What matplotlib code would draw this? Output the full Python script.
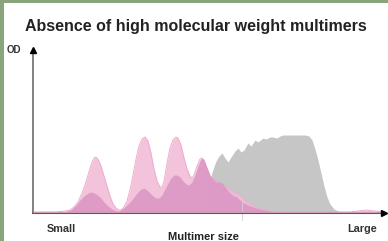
import matplotlib
matplotlib.use("Agg")
import matplotlib.pyplot as plt
from matplotlib.patches import Rectangle

# ---- data (x = multimer size position, y = OD) ----
light_x = [33, 55, 65, 70, 74, 78, 82, 85, 88, 91, 93, 95, 97, 99, 101, 104, 107, 110,
           113, 116, 119, 121, 124, 127, 130, 133, 136, 139, 142, 145, 148, 151, 154,
           157, 160, 162, 164, 167, 170, 173, 176, 178, 181, 184, 187, 190, 192, 194,
           197, 200, 202, 204, 207, 210, 214, 220, 226, 232, 240, 247, 257, 270, 290,
           350, 358, 366, 374, 385]
light_y = [1, 1, 2, 3, 6, 11, 20, 28, 38, 48, 53, 56, 55, 52, 47, 37, 27, 17,
           9, 5, 3, 3, 6, 12, 23, 38, 54, 67, 74, 76, 72, 60, 44,
           32, 26, 26, 32, 50, 65, 73, 76, 75, 68, 55, 44, 37, 35, 38,
           47, 54, 55, 53, 45, 37, 33, 30, 26, 22, 18, 11, 5, 2, 1,
           1, 2, 3, 2, 1]

dark_x = [33, 62, 68, 72, 76, 80, 84, 88, 92, 96, 100, 104, 108, 112, 116, 119, 122,
          126, 130, 134, 138, 141, 144, 147, 150, 153, 156, 159, 162, 165, 168, 171,
          174, 177, 180, 183, 186, 189, 192, 195, 198, 200, 202, 204, 207, 210, 213,
          216, 219, 222, 226, 230, 234, 237, 240, 244, 250, 256, 264, 274, 387]
dark_y = [1, 1, 2, 4, 8, 13, 17, 20, 21, 19, 16, 11, 7, 4, 2, 2, 4,
          7, 11, 16, 21, 24, 25, 23, 20, 17, 15, 15, 18, 24, 30, 35,
          38, 38, 36, 32, 29, 28, 31, 38, 47, 52, 55, 53, 45, 38, 34,
          31, 31, 30, 25, 20, 17, 16, 13, 10, 7, 5, 3, 1, 1]

gray_x = [204, 208, 212, 216, 219, 222, 225, 228, 231, 235, 238, 241, 244, 248, 251,
          255, 258, 263, 266, 270, 273, 277, 280, 283, 295, 305, 309, 312, 315, 318,
          321, 324, 327, 330, 334, 340, 346]
gray_y = [0, 20, 41, 52, 57, 60, 55, 51, 56, 62, 65, 61, 63, 70, 67, 73, 71, 75,
          74, 76, 76, 75, 77, 78, 78, 78, 77, 73, 64, 53, 40, 27, 16, 9, 4, 1, 0]

title = "Absence of high molecular weight multimers"
y_label = "OD"
x_label = "Multimer size"
x_ends = ["Small", "Large"]

W, H = 388, 241
fig = plt.figure(figsize=(W / 100, H / 100), dpi=100)
fig.patch.set_facecolor("white")

# green frame strips
fig.patches.append(Rectangle((0, 0), 4 / W, 1, transform=fig.transFigure,
                             facecolor="#8aa47c", edgecolor="none", zorder=0))
fig.patches.append(Rectangle((0, 1 - 3 / H), 1, 3 / H, transform=fig.transFigure,
                             facecolor="#8aa47c", edgecolor="none", zorder=0))

x0, x1 = 33, 387
ytop, ybase = 47, 213
ax = fig.add_axes([x0 / W, (H - ybase) / H, (x1 - x0) / W, (ybase - ytop) / H])
ax.set_xlim(x0, x1)
ax.set_ylim(0, ybase - ytop)
ax.axis("off")

light = "#f2bad6"
dark = "#dc98c5"
gray = "#c6c6c6"

ax.fill_between(gray_x, 0, gray_y, color=gray, lw=0, zorder=1)
ax.fill_between(light_x, 0, light_y, color=light, alpha=0.88, lw=0, zorder=2)
ax.plot(light_x, light_y, color="#eeaecd", lw=0.7, zorder=2)
ax.fill_between(dark_x, 0, dark_y, color=dark, alpha=0.92, lw=0, zorder=3)

# faint tick remnant
ax.plot([242, 242], [-7, 12], color="#d0d0d0", lw=0.6, clip_on=False, zorder=4)

# axes with arrows
axc = "#5a5a5a"
ax.plot([x0, x0], [0, ybase - ytop - 3], color="#777777", lw=1.3, clip_on=False, zorder=5)
ax.plot([x0, x1 - 4], [0, 0], color=axc, lw=1.5, clip_on=False, zorder=5)
ax.plot([x0, x1 - 4], [1.2, 1.2], color="#e6a9c8", lw=0.6, clip_on=False, zorder=5)
ax.plot([x0], [ybase - ytop - 3], marker="^", ms=4.5, color="black", clip_on=False, zorder=6)
ax.plot([x1 - 3], [0], marker=">", ms=4.5, color="black", clip_on=False, zorder=6)

fig.text(25 / W, 1 - 26 / H, title, fontsize=11.5, fontweight="bold",
         family="Liberation Sans", color="#222222", ha="left", va="center")
fig.text(7 / W, 1 - 50 / H, y_label, fontsize=7, fontweight="bold",
         family="Liberation Sans", color="#333333", ha="left", va="center")
fig.text(47 / W, 1 - 228.5 / H, x_ends[0], fontsize=7.8, fontweight="bold",
         family="Liberation Sans", color="#333333", ha="left", va="center")
fig.text(377 / W, 1 - 228.5 / H, x_ends[1], fontsize=7.8, fontweight="bold",
         family="Liberation Sans", color="#333333", ha="right", va="center")
fig.text(203 / W, 1 - 236.5 / H, x_label, fontsize=8, fontweight="bold",
         family="Liberation Sans", color="#222222", ha="center", va="center")

fig.savefig("out.png", dpi=100)
